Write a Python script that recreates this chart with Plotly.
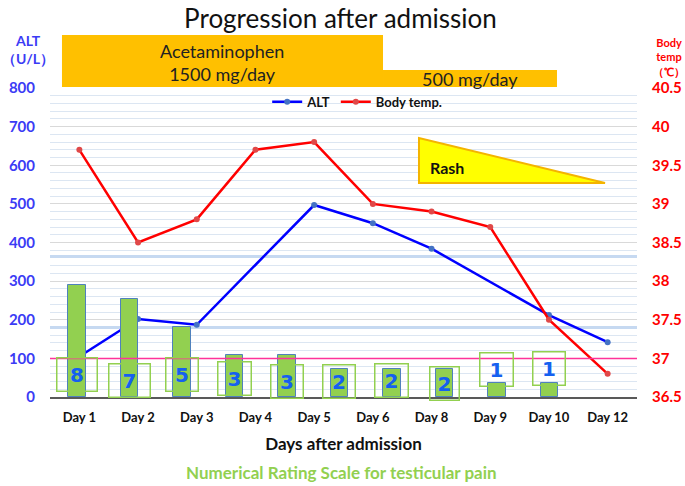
import plotly.graph_objects as go

# ---------------- data ----------------
days = ["Day 1", "Day 2", "Day 3", "Day 4", "Day 5", "Day 6", "Day 8", "Day 9", "Day 10", "Day 12"]
alt_values = [105, 202, 187, None, 497, 450, 384, None, 212, 142]
body_temp = [39.7, 38.5, 38.8, 39.7, 39.8, 39.0, 38.9, 38.7, 37.5, 36.8]
pain_nrs = [8, 7, 5, 3, 3, 2, 2, 2, 1, 1]
fever_line = 37.0

# layout helpers (label box placement, in ALT units / px)
label_y = [57, 43, 57, 48, 41, 41, 43, 34, 70, 73]
label_w = [39, 40, 31, 32, 31, 31, 32, 28, 32, 31]

FONT = "Lato"
BLUE_T = "#3B3BF5"
RED = "#FF0000"
GREEN = "#92D050"

fig = go.Figure()

fig.add_trace(go.Scatter(
    x=days, y=alt_values, name="ALT", mode="lines+markers",
    connectgaps=True,
    line=dict(color="#0000FF", width=2.5),
    marker=dict(color="#4472C4", size=6),
    xaxis="x", yaxis="y"))

fig.add_trace(go.Scatter(
    x=days, y=body_temp, name="Body temp.", mode="lines+markers",
    line=dict(color=RED, width=2.5),
    marker=dict(color="#E04848", size=6),
    xaxis="x", yaxis="y2"))

bar_pos = list(range(len(pain_nrs)))
fig.add_trace(go.Bar(
    x=bar_pos, y=pain_nrs, width=0.34, showlegend=False,
    marker=dict(color=GREEN, line=dict(color="#4F81BD", width=1)),
    xaxis="x2", yaxis="y3"))

annotations = []
for i, v in enumerate(pain_nrs):
    annotations.append(dict(
        x=bar_pos[i], y=label_y[i], xref="x2", yref="y",
        xanchor="center", yanchor="middle",
        text=f"<b>{v}</b>", showarrow=False,
        font=dict(family="DejaVu Sans", size=20, color="#1560F0"),
        width=label_w[i], height=32, borderpad=0,
        bordercolor=GREEN, borderwidth=1.5))

# Top drug boxes, rash triangle, fever threshold
shapes = [
    dict(type="rect", xref="paper", yref="paper", x0=0.0204, x1=0.5673, y0=1.0032, y1=1.1715,
         fillcolor="#FFC000", line=dict(width=0), layer="above"),
    dict(type="rect", xref="paper", yref="paper", x0=0.5673, x1=0.8637, y0=1.0032, y1=1.0583,
         fillcolor="#FFC000", line=dict(width=0), layer="above"),
    dict(type="path", xref="paper", yref="paper",
         path="M 0.6286 0.838 L 0.6286 0.6926 L 0.9455 0.6926 Z",
         fillcolor="#FFFF00", line=dict(color="#F4B400", width=2), layer="above"),
    dict(type="line", xref="paper", yref="y2", x0=0, x1=1, y0=fever_line, y1=fever_line,
         line=dict(color="#FF3399", width=1.5), layer="above"),
]
C = dict(xanchor="center", yanchor="middle", showarrow=False)
annotations += [
    dict(xref="paper", yref="paper", x=0.293, y=1.083, text="Acetaminophen<br>1500 mg/day",
         font=dict(family=FONT, size=18, color="#222"), align="center", **C),
    dict(xref="paper", yref="paper", x=0.715, y=1.03, text="500 mg/day",
         font=dict(family=FONT, size=18, color="#222"), **C),
    dict(xref="paper", yref="paper", x=0.677, y=0.744, text="<b>Rash</b>",
         font=dict(family=FONT, size=16, color="#111"), **C),
    dict(xref="paper", yref="paper", x=-0.085, y=1.123, text="<b>ALT<br>（U/L）</b>",
         font=dict(family=FONT, size=14, color=BLUE_T), align="center",
         xanchor="left", yanchor="middle", showarrow=False),
    dict(xref="paper", yref="paper", x=1.055, y=1.100, text="<b>Body<br>temp<br>（℃）</b>",
         font=dict(family=FONT, size=11, color=RED), align="center", **C),
    dict(xref="paper", yref="paper", x=0.497, y=-0.243, text="<b>Numerical Rating Scale for testicular pain</b>",
         font=dict(family=FONT, size=17, color=GREEN), **C),
]

fig.update_layout(
    width=685, height=486,
    margin=dict(l=50, r=48, t=88, b=89),
    paper_bgcolor="white", plot_bgcolor="white",
    title=dict(text="Progression after admission", x=0.497, xanchor="center",
               y=0.962, yanchor="middle",
               font=dict(family=FONT, size=26, color="#111")),
    font=dict(family=FONT),
    showlegend=True,
    legend=dict(orientation="h", x=0.37, y=0.955, xanchor="left", yanchor="middle",
                bgcolor="rgba(0,0,0,0)", font=dict(family=FONT, size=13, color="#111", weight="bold"),
                itemwidth=30, tracegroupgap=0),
    xaxis=dict(type="category", categoryorder="array", categoryarray=days,
               range=[-0.5, 9.5], automargin=False,
               showline=True, linecolor="#595959", linewidth=1.5, showgrid=False, ticks="",
               ticklabelstandoff=8,
               tickfont=dict(family=FONT, size=13, color="#111", weight="bold"),
               title=dict(text="<b>Days after admission</b>", font=dict(family=FONT, size=17, color="#111"),
                          standoff=14)),
    xaxis2=dict(overlaying="x", range=[-0.514, 10.667], visible=False),
    yaxis=dict(range=[0, 800], dtick=100, showgrid=True, gridcolor="#D9D9D9", gridwidth=1,
               minor=dict(dtick=20, showgrid=True, gridcolor="#DCE6F2", gridwidth=1),
               zeroline=False, ticks="", ticklabelstandoff=14, automargin=False,
               tickfont=dict(family=FONT, size=15, color=BLUE_T, weight="bold")),
    yaxis2=dict(range=[36.5, 40.5], dtick=0.5, overlaying="y", side="right", showgrid=False,
                zeroline=False, ticks="", ticklabelstandoff=14, automargin=False,
                tickfont=dict(family=FONT, size=15, color=RED, weight="bold")),
    yaxis3=dict(range=[0, 22.07], overlaying="y", tickvals=[5, 10], showticklabels=False,
                showgrid=True, gridcolor="#C6D9F1", gridwidth=3, zeroline=False, side="left"),
    bargap=0,
    shapes=shapes,
    annotations=annotations,
)

fig.write_html("out.html", config={"displayModeBar": False},
               post_script="document.body.style.margin='0';")
